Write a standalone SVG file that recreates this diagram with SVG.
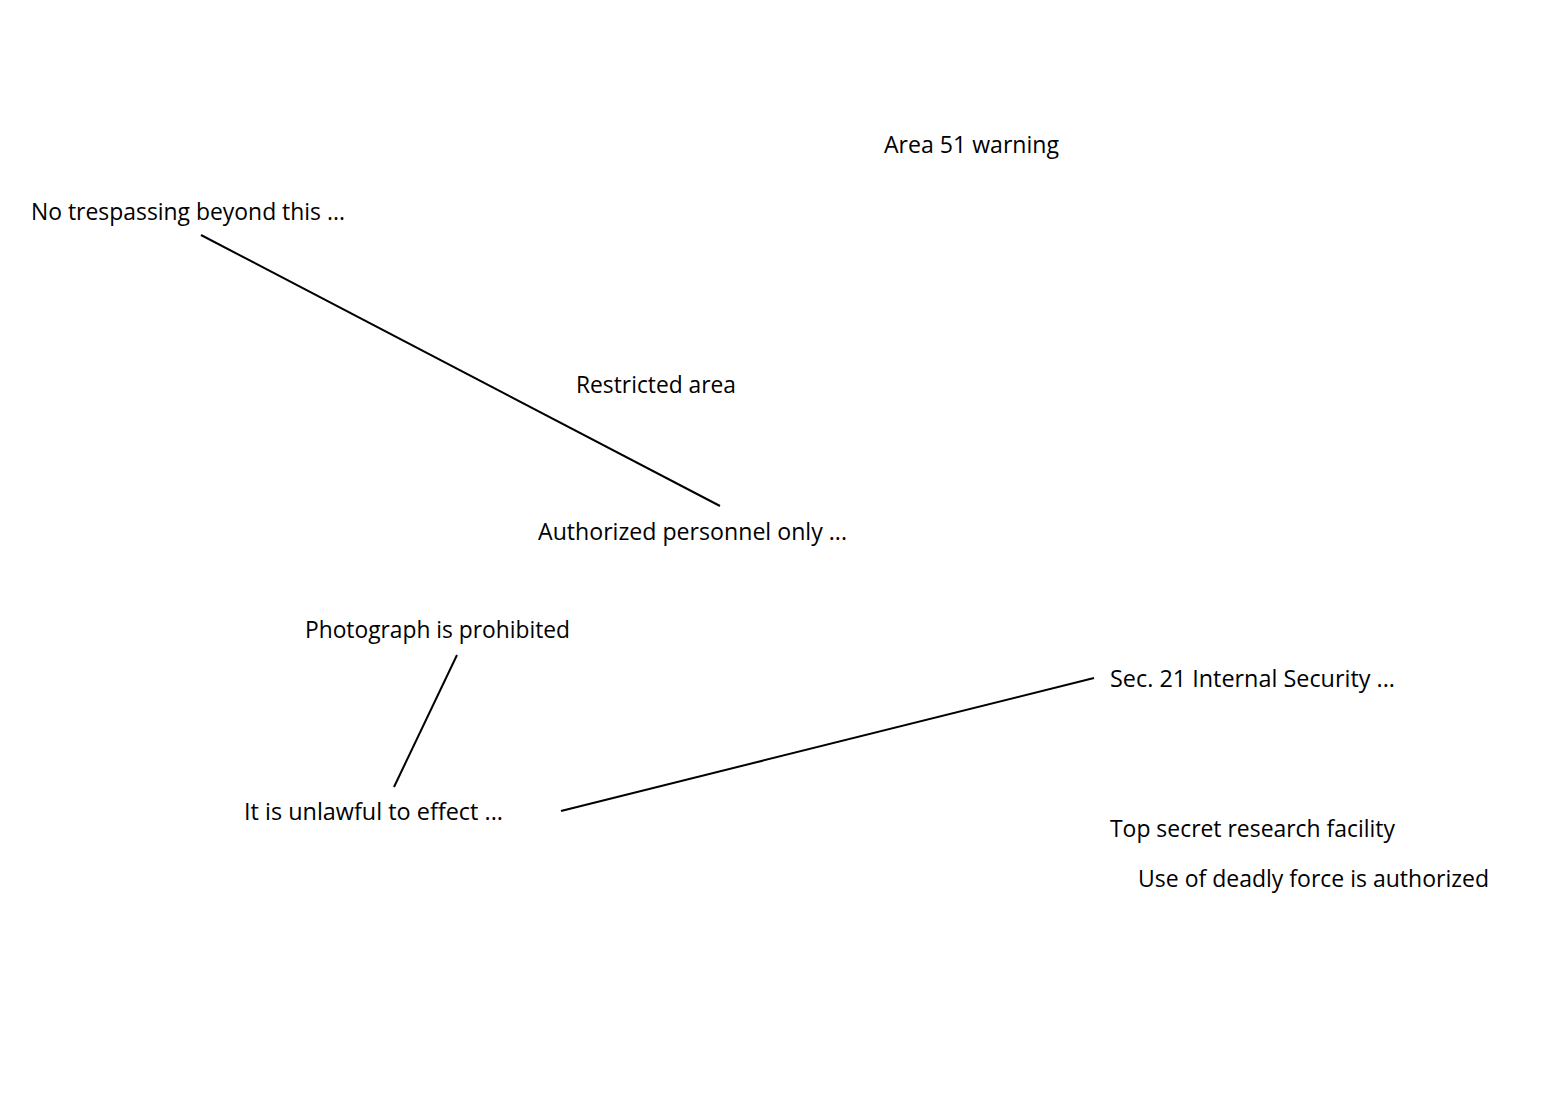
<svg xmlns="http://www.w3.org/2000/svg" width="1550" height="1100" viewBox="0 0 1550 1100">
<style>
text{font-family:"Open Sans","Noto Sans","Liberation Sans",sans-serif;font-size:23px;fill:#000}
.c line{stroke:#000;stroke-width:2}
</style>
<rect width="1550" height="1100" fill="#fff"/>
<g id="n-area51"><text x="884" y="153" textLength="175" lengthAdjust="spacingAndGlyphs">Area 51 warning</text></g>
<g id="n-notrespass"><text x="31" y="220" textLength="314" lengthAdjust="spacingAndGlyphs">No trespassing beyond this ...</text></g>
<g id="n-restricted"><text x="576" y="393" textLength="160" lengthAdjust="spacingAndGlyphs">Restricted area</text></g>
<g id="n-authorized"><text x="538" y="540" textLength="309" lengthAdjust="spacingAndGlyphs">Authorized personnel only ...</text></g>
<g id="n-photograph"><text x="305" y="638" textLength="265" lengthAdjust="spacingAndGlyphs">Photograph is prohibited</text></g>
<g id="n-sec21"><text x="1110" y="687" textLength="285" lengthAdjust="spacingAndGlyphs">Sec. 21 Internal Security ...</text></g>
<g id="n-unlawful"><text x="244" y="820" textLength="259" lengthAdjust="spacingAndGlyphs">It is unlawful to effect ...</text></g>
<g id="n-topsecret"><text x="1110" y="837" textLength="285" lengthAdjust="spacingAndGlyphs">Top secret research facility</text></g>
<g id="n-deadly"><text x="1138" y="887" textLength="351" lengthAdjust="spacingAndGlyphs">Use of deadly force is authorized</text></g>
<g id="connectors" class="c">
<line x1="201" y1="235" x2="720" y2="506"/>
<line x1="457" y1="655" x2="394" y2="787"/>
<line x1="561" y1="811" x2="1094" y2="678"/>
</g>
</svg>
